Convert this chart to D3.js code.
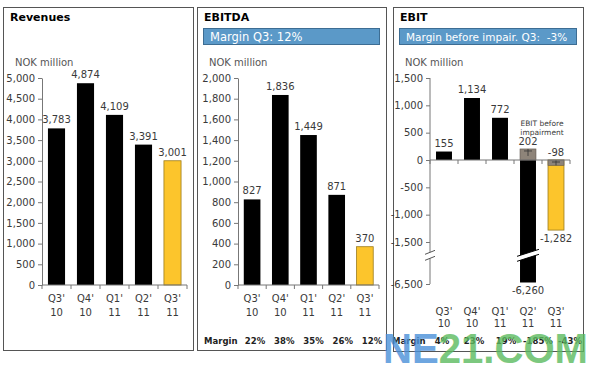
<!DOCTYPE html>
<html>
<head>
<meta charset="utf-8">
<script src="https://cdn.jsdelivr.net/npm/d3@7"></script>
<style>
  body { margin: 0; background: #fff; }
  svg { display: block; font-family: "DejaVu Sans", Verdana, sans-serif; }
</style>
</head>
<body>
<div id="chart"></div>
<script>
// quarterly figures, NOK million
const quarters = ["Q3'10", "Q4'10", "Q1'11", "Q2'11", "Q3'11"];
const quarterLines = [["Q3'", "10"], ["Q4'", "10"], ["Q1'", "11"], ["Q2'", "11"], ["Q3'", "11"]];
const revenues = [3783, 4874, 4109, 3391, 3001];
const ebitda = [827, 1836, 1449, 871, 370];
const ebit = [155, 1134, 772, -6260, -1282];
const ebitBeforeImpairment = [null, null, null, 202, -98];
const ebitdaMargins = ["22%", "38%", "35%", "26%", "12%"];
const ebitMargins = ["4%", "23%", "19%", "-185%", "-43%"];
const revenueTicks = [0, 500, 1000, 1500, 2000, 2500, 3000, 3500, 4000, 4500, 5000];
const ebitdaTicks = [0, 200, 400, 600, 800, 1000, 1200, 1400, 1600, 1800, 2000];
const ebitTicks = [1500, 1000, 500, 0, -500, -1000, -1500, -6500];

// plain hyphen for negatives, like the original
const fmt = d3.formatLocale({ decimal: ".", thousands: ",", grouping: [3], currency: ["", ""], minus: "-" }).format(",");
const black = "#000";
const yellow = "#FCC52C";
const yellowEdge = "#9C7C1C";
const grey = "#8E8479";
const boxBlue = "#5B99C8";
const textCol = "#3a3a3a";

const svg = d3.select("#chart").append("svg")
  .attr("width", 600)
  .attr("height", 370);

// draws the frame + title (+ optional blue box)
function frame(x, y, w, h, title, boxText, boxFont) {
  svg.append("rect")
    .attr("x", x + 0.5).attr("y", y + 0.5)
    .attr("width", w).attr("height", h)
    .attr("fill", "#fff").attr("stroke", "#555");
  svg.append("text")
    .attr("x", x + 7).attr("y", y + 14)
    .attr("font-size", 11).attr("font-weight", "bold")
    .attr("fill", "#000")
    .text(title);
  if (boxText) {
    svg.append("rect")
      .attr("x", x + 6.5).attr("y", y + 21.5)
      .attr("width", w - 13).attr("height", 16)
      .attr("fill", boxBlue).attr("stroke", "#3d6d93");
    svg.append("text")
      .attr("x", x + 13).attr("y", y + 34)
      .attr("font-size", boxFont).attr("fill", "#fff")
      .style("white-space", "pre")
      .text(boxText);
  }
  svg.append("text")
    .attr("x", x + 12).attr("y", 66)
    .attr("font-size", 10).attr("fill", "#555")
    .text("NOK million");
}

// y axis on the left, ticks pointing outwards
function yAxis(y, ax, ticks) {
  const g = svg.append("g")
    .attr("transform", `translate(${ax},0)`)
    .call(d3.axisLeft(y).tickValues(ticks).tickSize(4).tickSizeOuter(0).tickFormat(fmt));
  g.selectAll("line,path").attr("stroke", "#777");
  g.selectAll("text").attr("font-size", 10).attr("fill", textCol)
    .attr("font-family", "DejaVu Sans, Verdana, sans-serif");
  return g;
}

// x axis line with ticks between categories
function xAxis(x, yPos) {
  const [r0, r1] = x.range();
  svg.append("line")
    .attr("x1", r0).attr("x2", r1).attr("y1", yPos).attr("y2", yPos)
    .attr("stroke", "#777");
  const gap = x.step() - x.bandwidth();
  const bounds = quarters.map(q => x(q) - gap / 2).concat([r1]);
  svg.selectAll(null).data(bounds).join("line")
    .attr("x1", d => d).attr("x2", d => d)
    .attr("y1", yPos).attr("y2", yPos + 4)
    .attr("stroke", "#777");
}

function categoryLabels(x, y1, y2) {
  const g = svg.append("g");
  quarters.forEach((q, i) => {
    const cx = x(q) + x.bandwidth() / 2;
    g.append("text").attr("x", cx).attr("y", y1).attr("text-anchor", "middle")
      .attr("font-size", 10).attr("fill", textCol).text(quarterLines[i][0]);
    g.append("text").attr("x", cx).attr("y", y2).attr("text-anchor", "middle")
      .attr("font-size", 10).attr("fill", textCol).text(quarterLines[i][1]);
  });
}

function marginRow(px, range, values) {
  svg.append("text").attr("x", px).attr("y", 344)
    .attr("font-size", 8.5).attr("font-weight", "bold").attr("fill", "#222")
    .text("Margin");
  const mx = d3.scalePoint(quarters, range);
  svg.selectAll(null).data(values).join("text")
    .attr("x", (d, i) => mx(quarters[i]))
    .attr("y", 344)
    .attr("text-anchor", "middle")
    .attr("font-size", 8.5).attr("font-weight", "bold").attr("fill", "#222")
    .text(d => d);
}

function simpleBars(x, y, values) {
  svg.selectAll(null).data(values).join("rect")
    .attr("x", (d, i) => x(quarters[i]))
    .attr("y", d => y(d))
    .attr("width", x.bandwidth())
    .attr("height", d => y(0) - y(d))
    .attr("fill", (d, i) => i === values.length - 1 ? yellow : black)
    .attr("stroke", (d, i) => i === values.length - 1 ? yellowEdge : "none")
    .attr("stroke-width", 0.8);
  svg.selectAll(null).data(values).join("text")
    .attr("x", (d, i) => x(quarters[i]) + x.bandwidth() / 2)
    .attr("y", d => y(d) - 5)
    .attr("text-anchor", "middle")
    .attr("font-size", 10).attr("fill", textCol)
    .text(d => fmt(d));
}

// ---- Revenues ----
frame(3, 7, 190, 343, "Revenues");
const xRev = d3.scaleBand(quarters, [42, 187]).paddingInner(0.41).paddingOuter(0.205);
const yRev = d3.scaleLinear([0, 5000], [285, 78]);
yAxis(yRev, 42, revenueTicks);
simpleBars(xRev, yRev, revenues);
xAxis(xRev, yRev(0));
categoryLabels(xRev, 302, 316);

// ---- EBITDA ----
frame(197, 7, 189, 343, "EBITDA", "Margin Q3: 12%", 11.5);
const xEbd = d3.scaleBand(quarters, [238, 379]).paddingInner(0.41).paddingOuter(0.205);
const yEbd = d3.scaleLinear([0, 2000], [285, 78]);
yAxis(yEbd, 238, ebitdaTicks);
simpleBars(xEbd, yEbd, ebitda);
xAxis(xEbd, yEbd(0));
categoryLabels(xEbd, 302, 316);
marginRow(204, [255, 372], ebitdaMargins);

// ---- EBIT (broken axis) ----
frame(393, 7, 190, 344, "EBIT", "Margin before impair. Q3:  -3%", 10.5);
const xEbit = d3.scaleBand(quarters, [430, 570]).paddingInner(0.43).paddingOuter(0.215);
const yEbit = d3.scaleLinear([-6500, -3000, -1500, 1500], [284, 262, 242, 78]);
const breakY = yEbit(-2500);
const gAx = yAxis(yEbit, 430, ebitTicks);
gAx.select(".domain").remove();
svg.append("line").attr("x1", 430).attr("x2", 430)
  .attr("y1", yEbit(1500)).attr("y2", breakY - 3).attr("stroke", "#777");
svg.append("line").attr("x1", 430).attr("x2", 430)
  .attr("y1", breakY + 3).attr("y2", yEbit(-6500)).attr("stroke", "#777");
[-3, 3].forEach(o => {
  svg.append("line")
    .attr("x1", 425).attr("x2", 435)
    .attr("y1", breakY + o + 2).attr("y2", breakY + o - 2)
    .attr("stroke", "#555");
});

const last = ebit.length - 1;
svg.selectAll(null).data(ebit).join("rect")
  .attr("x", (d, i) => xEbit(quarters[i]))
  .attr("y", d => yEbit(Math.max(d, 0)))
  .attr("width", xEbit.bandwidth())
  .attr("height", d => Math.abs(yEbit(d) - yEbit(0)))
  .attr("fill", (d, i) => i === last ? yellow : black)
  .attr("stroke", (d, i) => i === last ? yellowEdge : "none")
  .attr("stroke-width", 0.8);

// EBIT before impairment overlay
ebitBeforeImpairment.forEach((v, i) => {
  if (v === null) return;
  const x0 = xEbit(quarters[i]), bw = xEbit.bandwidth(), cx = x0 + bw / 2;
  const top = yEbit(Math.max(v, 0));
  const h = Math.abs(yEbit(v) - yEbit(0));
  svg.append("rect").attr("x", x0).attr("y", top).attr("width", bw).attr("height", h)
    .attr("fill", grey).attr("stroke", "#5e564e").attr("stroke-width", 0.6);
  svg.append("line").attr("x1", cx - 4).attr("x2", cx + 4)
    .attr("y1", top + 2).attr("y2", top + 2).attr("stroke", "#333").attr("stroke-width", 0.8);
  svg.append("line").attr("x1", cx).attr("x2", cx)
    .attr("y1", top).attr("y2", top + Math.min(7, h)).attr("stroke", "#333").attr("stroke-width", 0.8);
  svg.append("text").attr("x", cx).attr("y", top - 4)
    .attr("text-anchor", "middle").attr("font-size", 10).attr("fill", textCol)
    .text(fmt(v));
});

// value labels for the plain EBIT bars
ebit.forEach((v, i) => {
  const cx = xEbit(quarters[i]) + xEbit.bandwidth() / 2;
  if (ebitBeforeImpairment[i] !== null && v >= 0) return;
  svg.append("text").attr("x", cx)
    .attr("y", v >= 0 ? yEbit(v) - 5 : yEbit(v) + 12)
    .attr("text-anchor", "middle").attr("font-size", 10).attr("fill", textCol)
    .text(fmt(v));
});

// break through the tall bar
ebit.forEach((v, i) => {
  if (v > -3000) return;
  const x0 = xEbit(quarters[i]) - 3, x1 = xEbit(quarters[i]) + xEbit.bandwidth() + 3;
  svg.append("polygon")
    .attr("points", `${x0},${breakY + 6} ${x1},${breakY - 1} ${x1},${breakY - 6} ${x0},${breakY + 1}`)
    .attr("fill", "#fff");
  [[6, -1], [1, -6]].forEach(([a, b]) => {
    svg.append("line").attr("x1", x0).attr("x2", x1)
      .attr("y1", breakY + a).attr("y2", breakY + b)
      .attr("stroke", "#000").attr("stroke-width", 1);
  });
});

const noteX = (xEbit(quarters[3]) + xEbit(quarters[4]) + xEbit.bandwidth()) / 2;
svg.append("text").attr("x", noteX).attr("y", 126).attr("text-anchor", "middle")
  .attr("font-size", 7.5).attr("fill", textCol).text("EBIT before");
svg.append("text").attr("x", noteX).attr("y", 135).attr("text-anchor", "middle")
  .attr("font-size", 7.5).attr("fill", textCol).text("impairment");

xAxis(xEbit, yEbit(0));
categoryLabels(xEbit, 315, 327);
marginRow(392, [442, 570], ebitMargins);

// watermark on the picture
const wm = svg.append("text")
  .attr("x", 383).attr("y", 363)
  .attr("font-family", "Liberation Sans, Arial, sans-serif")
  .attr("font-weight", "bold").attr("font-size", 43)
  .attr("textLength", 205).attr("lengthAdjust", "spacingAndGlyphs")
  .attr("opacity", 0.8);
wm.append("tspan").attr("fill", "#4a90d9").text("NE");
wm.append("tspan").attr("fill", "#5cbb60").text("21.COM");
</script>
</body>
</html>
